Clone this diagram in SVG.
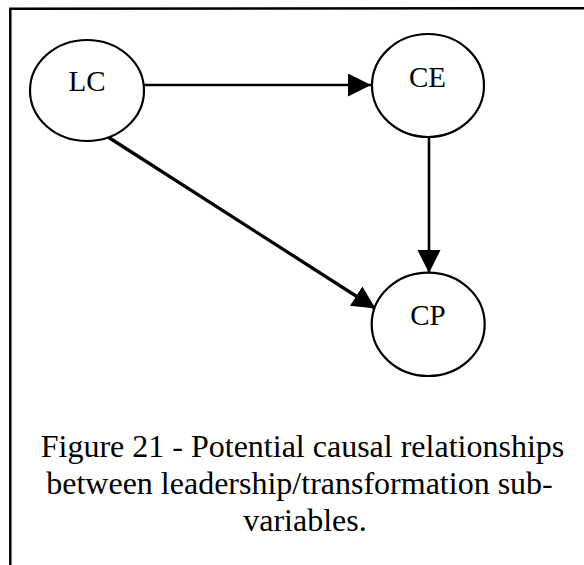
<svg xmlns="http://www.w3.org/2000/svg" width="584" height="565" viewBox="0 0 584 565">
  <style>
    .frame { fill: none; stroke: #000; stroke-width: 2.5; }
    .node ellipse { fill: #fff; stroke: #000; stroke-width: 2.2; }
    .node text { font-family: "Liberation Serif", "Times New Roman", serif; font-size: 29px; fill: #000; text-anchor: middle; }
    .edge { stroke: #000; stroke-width: 2.6; fill: none; marker-end: url(#head); }
    .caption { font-family: "Liberation Serif", "Times New Roman", serif; font-size: 32px; fill: #000; text-anchor: middle; }
  </style>
  <defs>
    <marker id="head" markerUnits="userSpaceOnUse" markerWidth="24" markerHeight="24" refX="23" refY="11.5" orient="auto">
      <path d="M0,0 L23,11.5 L0,23 Z" fill="#000"/>
    </marker>
  </defs>
  <rect width="584" height="565" fill="#fff"/>

  <!-- open frame: top and left edges only -->
  <path class="frame" d="M10.3,565 L10.3,8.8 L584,8.2"/>

  <g id="connectors">
    <line class="edge" x1="144" y1="85" x2="371" y2="85"/>
    <line class="edge" x1="429" y1="137" x2="429" y2="273"/>
    <line class="edge" x1="108" y1="137" x2="375.5" y2="308.5" style="stroke-width:3.3"/>
  </g>

  <g id="LC" class="node">
    <ellipse cx="87" cy="90.5" rx="57" ry="50.5"/>
    <text x="87" y="91">LC</text>
  </g>
  <g id="CE" class="node">
    <ellipse cx="428" cy="85.5" rx="56" ry="51.5"/>
    <text x="427.5" y="86.5">CE</text>
  </g>
  <g id="CP" class="node">
    <ellipse cx="428.2" cy="324.3" rx="56.5" ry="51.7"/>
    <text x="428" y="325">CP</text>
  </g>

  <g id="caption">
    <text class="caption" x="302.5" y="456.7">Figure 21 - Potential causal relationships</text>
    <text class="caption" x="299.5" y="493.5">between leadership/transformation sub-</text>
    <text class="caption" x="305" y="531">variables.</text>
  </g>
</svg>
